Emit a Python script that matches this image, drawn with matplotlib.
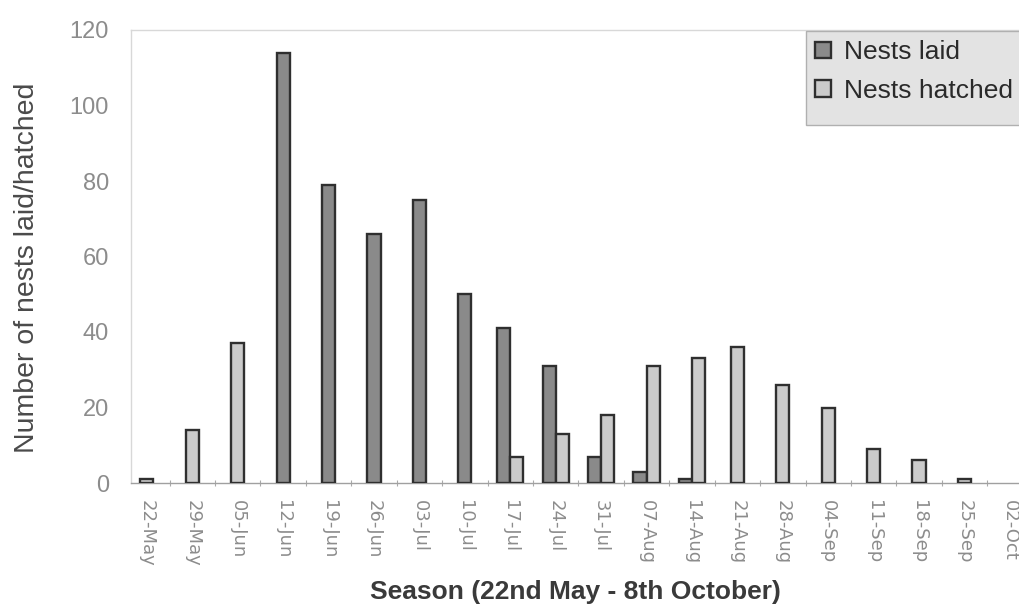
import matplotlib
matplotlib.use("Agg")
import matplotlib.pyplot as plt
from matplotlib.patches import Patch, Rectangle
import numpy as np

plt.rcParams['font.family'] = ['Liberation Sans', 'DejaVu Sans']

weeks = ["22-May", "29-May", "05-Jun", "12-Jun", "19-Jun", "26-Jun", "03-Jul",
         "10-Jul", "17-Jul", "24-Jul", "31-Jul", "07-Aug", "14-Aug", "21-Aug",
         "28-Aug", "04-Sep", "11-Sep", "18-Sep", "25-Sep", "02-Oct"]
nests_laid = [0, 0, 0, 114, 79, 66, 75, 50, 41, 31, 7, 3, 1, 0, 0, 0, 0, 0, 0, 0]
nests_hatched = [1, 14, 37, 0, 0, 0, 0, 0, 7, 13, 18, 31, 33, 36, 26, 20, 9, 6, 1, 0]

laid_color = "#8a8a8a"
hatched_color = "#cbcbcb"
edge_color = "#2f2f2f"
bar_w = 0.29

W, H = 1019, 608
fig = plt.figure(figsize=(W / 100, H / 100), dpi=100)
ax = fig.add_axes([131 / W, 1 - 483 / H, 1 - 131 / W, (483 - 30) / H])

x = np.arange(len(weeks))
for i, (laid, hatched) in enumerate(zip(nests_laid, nests_hatched)):
    # weeks with both counts get a side-by-side pair, otherwise one centred bar
    both = laid > 0 and hatched > 0
    if laid > 0:
        ax.bar(x[i] - (bar_w / 2 if both else 0), laid, width=bar_w,
               color=laid_color, edgecolor=edge_color, linewidth=1.7, zorder=3)
    if hatched > 0:
        ax.bar(x[i] + (bar_w / 2 if both else 0), hatched, width=bar_w,
               color=hatched_color, edgecolor=edge_color, linewidth=1.7, zorder=3)

ax.set_xlim(-0.35, 19.2)
ax.set_ylim(0, 120)

ax.set_yticks(range(0, 121, 20))
ax.tick_params(axis='y', length=0, pad=16, labelsize=17, labelcolor="#8c8c8c")
ax.set_xticks(x)
ax.set_xticklabels(weeks, rotation=270, fontsize=13, color="#8c8c8c",
                   family="DejaVu Sans")
ax.tick_params(axis='x', which='major', length=0, pad=12)
ax.set_xticks(x[:-1] + 0.5, minor=True)
ax.tick_params(axis='x', which='minor', length=5, direction='inout',
               color="#aaaaaa", width=0.8)

for side in ("top", "left"):
    ax.spines[side].set_color("#d8d8d8")
    ax.spines[side].set_linewidth(1.0)
ax.spines["bottom"].set_color("#a0a0a0")
ax.spines["bottom"].set_linewidth(1.0)
ax.spines["right"].set_visible(False)

ax.set_ylabel("Number of nests laid/hatched", fontsize=20.5, color="#4a4a4a")
ax.yaxis.set_label_coords(-0.102, 0.475)
ax.set_xlabel("Season (22nd May - 8th October)", fontsize=19, fontweight="bold",
              color="#3a3a3a")
ax.xaxis.set_label_coords(0.501, -0.214)

# legend box: grey panel running off the right edge of the figure
fig.patches.append(Rectangle((806 / W, 1 - 125 / H), 240 / W, 94 / H,
                             transform=fig.transFigure, facecolor="#e3e3e3",
                             edgecolor="#b0b0b0", linewidth=1.0, zorder=5))
handles = [Patch(facecolor=laid_color, edgecolor=edge_color, linewidth=1.7),
           Patch(facecolor=hatched_color, edgecolor=edge_color, linewidth=1.7)]
leg = fig.legend(handles, ["Nests laid", "Nests hatched"],
                 loc="upper left", bbox_to_anchor=(806 / W, 1 - 31 / H),
                 fontsize=19, frameon=False,
                 handlelength=0.6, handleheight=0.6, handletextpad=0.5,
                 borderpad=0.35, labelspacing=0.55, borderaxespad=0)
leg.set_zorder(6)
for t in leg.get_texts():
    t.set_color("#2a2a2a")

fig.savefig("out.png", dpi=100, facecolor="white")
